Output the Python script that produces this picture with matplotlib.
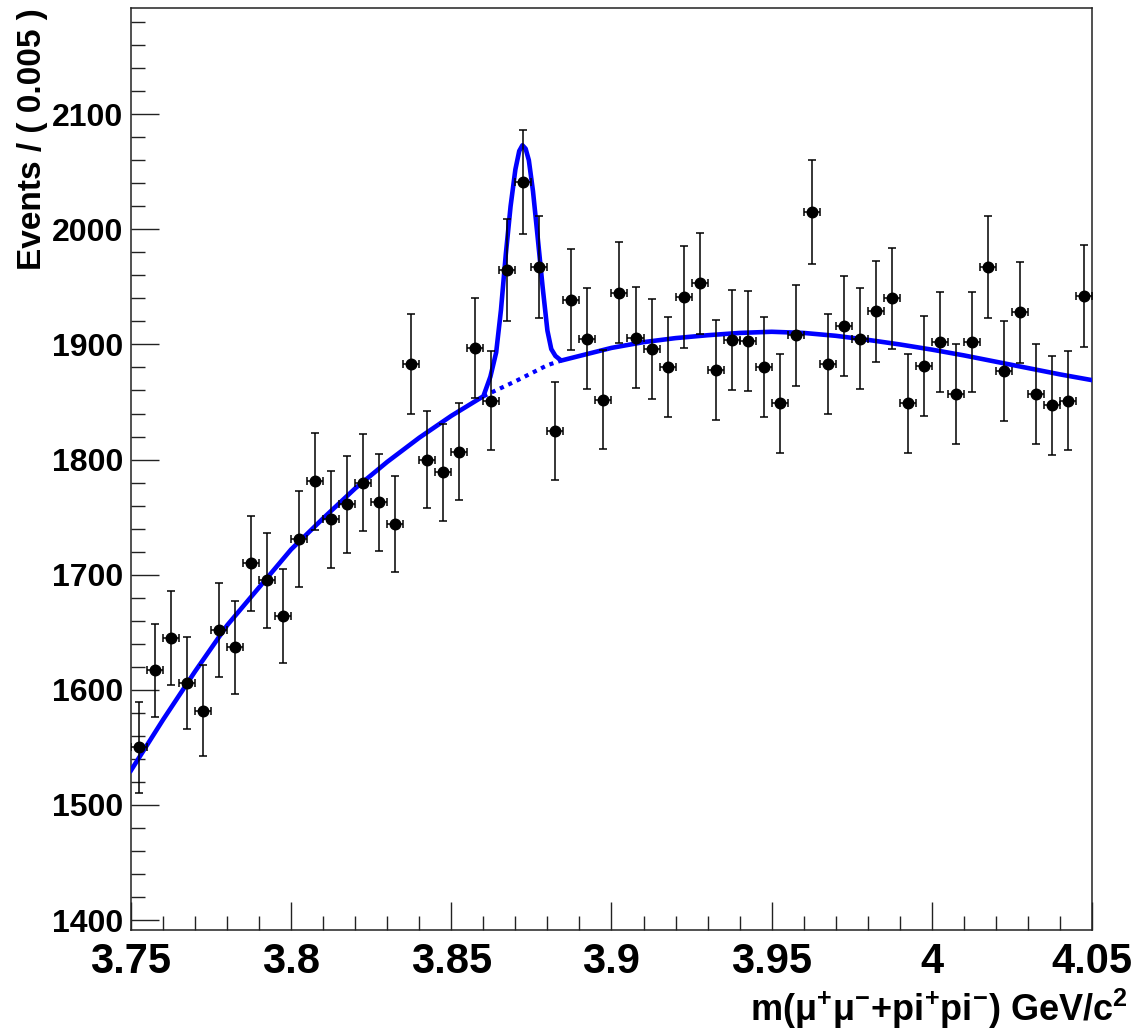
import numpy as np
import matplotlib
matplotlib.use("Agg")
from matplotlib import pyplot as plt
from matplotlib.ticker import MultipleLocator

plt.rcParams['font.family'] = ['Liberation Sans', 'DejaVu Sans']
plt.rcParams['font.weight'] = 'bold'
plt.rcParams['mathtext.fontset'] = 'custom'
plt.rcParams['mathtext.rm'] = 'Liberation Sans'
plt.rcParams['mathtext.bf'] = 'Liberation Sans:bold'
plt.rcParams['mathtext.default'] = 'bf'

# binned data, 60 bins of 0.005 GeV from 3.75
bin_start = 3.75
bin_width = 0.005
counts = [1550, 1617, 1645, 1606, 1582, 1652, 1637, 1710, 1695, 1664,
          1731, 1781, 1748, 1761, 1780, 1763, 1744, 1883, 1800, 1789,
          1807, 1897, 1851, 1965, 2041, 1967, 1825, 1939, 1905, 1852,
          1945, 1906, 1896, 1880, 1941, 1953, 1878, 1904, 1903, 1880,
          1849, 1908, 2015, 1883, 1916, 1905, 1929, 1940, 1849, 1881,
          1902, 1857, 1902, 1967, 1877, 1928, 1857, 1847, 1851, 1942]
errors = [39.4, 40.2, 40.6, 40.1, 39.8, 40.6, 40.5, 41.4, 41.2, 40.8,
          41.6, 42.2, 41.8, 42.0, 42.2, 42.0, 41.8, 43.4, 42.4, 42.3,
          42.5, 43.6, 43.0, 44.3, 45.2, 44.4, 42.7, 44.0, 43.6, 43.0,
          44.1, 43.7, 43.5, 43.4, 44.1, 44.2, 43.3, 43.6, 43.6, 43.4,
          43.0, 43.7, 44.9, 43.4, 43.8, 43.6, 43.9, 44.0, 43.0, 43.4,
          43.6, 43.1, 43.6, 44.4, 43.3, 43.9, 43.1, 43.0, 43.0, 44.1]

# fitted background
bkg_x = [3.75, 3.76, 3.77, 3.78, 3.79, 3.80, 3.81, 3.82, 3.83, 3.84,
         3.85, 3.86, 3.87, 3.88, 3.89, 3.90, 3.91, 3.92, 3.93, 3.94,
         3.95, 3.96, 3.97, 3.98, 3.99, 4.00, 4.01, 4.02, 4.03, 4.04, 4.05]
bkg_y = [1530, 1574, 1616, 1656, 1689, 1722, 1749, 1775, 1798, 1819,
         1838, 1855, 1868, 1882, 1890, 1897, 1902, 1905.5, 1908, 1910,
         1911, 1910, 1907.5, 1904, 1900, 1895.5, 1890.5, 1885, 1879.5, 1874, 1869]

# signal + background around the peak
peak_x = [3.8600, 3.8622, 3.8640, 3.8655, 3.8670, 3.8685, 3.8700, 3.8712,
          3.8722, 3.8732, 3.8742, 3.8755, 3.8770, 3.8785, 3.8800, 3.8812,
          3.8825, 3.8843]
peak_y = [1855, 1872, 1893, 1930, 1978, 2020, 2052, 2068,
          2073, 2070, 2060, 2033, 1992, 1950, 1912, 1896,
          1890, 1886]

centers = bin_start + bin_width * (np.arange(len(counts)) + 0.5)

fig = plt.figure(figsize=(11.48, 10.31), dpi=100)
ax = fig.add_axes([0.1141, 0.0975, 0.8371, 0.8945])

# total pdf: background outside the peak window, peak inside
bx = np.array(bkg_x)
by = np.array(bkg_y)
left = bx < peak_x[0]
right = bx > peak_x[-1]
tot_x = np.concatenate([bx[left], peak_x, bx[right]])
tot_y = np.concatenate([by[left], peak_y, by[right]])

# dotted background under the peak
inside = (bx > peak_x[0]) & (bx < peak_x[-1])
dot_x = np.concatenate([[peak_x[0]], bx[inside], [peak_x[-1]]])
dot_y = np.concatenate([[peak_y[0]], by[inside], [peak_y[-1]]])
ax.plot(dot_x, dot_y, color='#0000ff', lw=3.0, ls=(0, (1, 1.2)), zorder=2)
ax.plot(tot_x, tot_y, color='#0000ff', lw=3.3, zorder=3)

ax.errorbar(centers, counts, xerr=bin_width / 2, yerr=errors, fmt='o',
            color='black', ms=7.6, capsize=2.6, elinewidth=1.1,
            capthick=1.1, zorder=4)

ax.set_xlim(3.75, 4.05)
ax.set_ylim(1391, 2192)
ax.xaxis.set_major_locator(MultipleLocator(0.05))
ax.xaxis.set_minor_locator(MultipleLocator(0.01))
ax.yaxis.set_major_locator(MultipleLocator(100))
ax.yaxis.set_minor_locator(MultipleLocator(20))
ax.set_xticks([3.75, 3.8, 3.85, 3.9, 3.95, 4.0, 4.05])
ax.set_xticklabels(['3.75', '3.8', '3.85', '3.9', '3.95', '4', '4.05'])

ax.tick_params(which='both', direction='in', top=False, right=False,
               width=1.0, color='#222222')
ax.tick_params(which='major', length=20.5)
ax.tick_params(which='minor', length=10)
ax.tick_params(axis='x', labelsize=30, pad=8.5)
ax.tick_params(axis='y', labelsize=23, pad=5.5)
for lab in ax.get_xticklabels() + ax.get_yticklabels():
    lab.set_fontweight('bold')
for sp in ax.spines.values():
    sp.set_linewidth(1.1)
    sp.set_color('#222222')

fig.text(41 / 1148, 1 - 8 / 1031, 'Events / ( 0.005 )', rotation=90,
         rotation_mode='anchor', ha='right', va='baseline',
         fontsize=24, fontweight='bold')
fig.text(1128 / 1148, 1 - 1021 / 1031,
         r'm($\mathrm{\mu}^{+}\mathrm{\mu}^{-}$+pi$^{+}$pi$^{-}$) GeV/c$^{2}$',
         ha='right', va='baseline', fontsize=26, fontweight='bold')

fig.savefig('out.png', dpi=100)
